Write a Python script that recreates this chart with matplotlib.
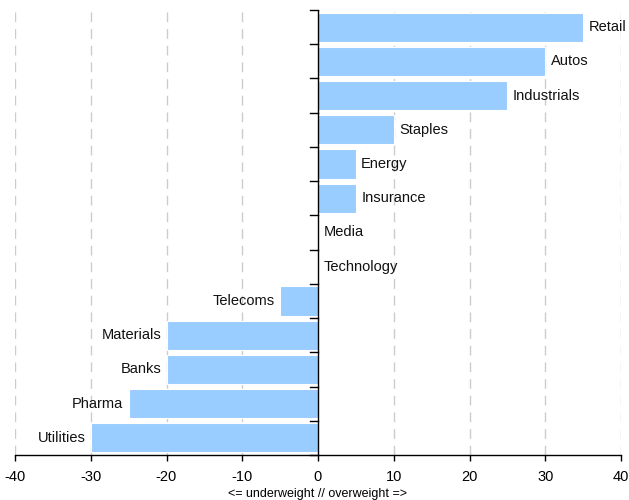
import matplotlib
matplotlib.use("Agg")
import matplotlib.pyplot as plt
from matplotlib import font_manager

names = {f.name for f in font_manager.fontManager.ttflist}
fam = ['Liberation Sans Narrow', 'Liberation Sans', 'DejaVu Sans'] if 'Liberation Sans Narrow' in names else ['Liberation Sans', 'DejaVu Sans']
plt.rcParams['font.family'] = fam

categories = ["Retail", "Autos", "Industrials", "Staples", "Energy", "Insurance", "Media",
              "Technology", "Telecoms", "Materials", "Banks", "Pharma", "Utilities"]
values = [35, 30, 25, 10, 5, 5, 0, 0, -5, -20, -20, -25, -30]
xticks = [-40, -30, -20, -10, 0, 10, 20, 30, 40]
xlabel = "<= underweight // overweight =>"

fig = plt.figure(figsize=(6.29, 5.0), dpi=100)
ax = fig.add_axes([15/629, 45/500, 606/629, 445/500])

n = len(categories)
ypos = list(range(n))
ax.barh(ypos, values, height=0.85, color="#99CCFF", edgecolor="white", linewidth=0.8, zorder=2)
ax.set_ylim(n - 0.5, -0.5)
ax.set_xlim(-40, 40)

for y, v, c in zip(ypos, values, categories):
    if v >= 0:
        ax.text(v + 0.7, y, c, ha="left", va="center", fontsize=10.5, color="#111111", zorder=3)
    else:
        ax.text(v - 0.7, y, c, ha="right", va="center", fontsize=10.5, color="#111111", zorder=3)

for t in xticks:
    if t != 0:
        ax.axvline(t, color="#cccccc", linestyle=(0, (7, 5)), linewidth=1.0, zorder=1)

ax.set_xticks(xticks)
ax.set_xticklabels([str(t) for t in xticks], fontsize=10.5)
ax.set_xlabel(xlabel, fontsize=9, labelpad=3)

for s in ["top", "right", "left"]:
    ax.spines[s].set_visible(False)
ax.spines["bottom"].set_linewidth(1.0)
ax.axvline(0, color="black", linewidth=1.0, zorder=4)
ax.tick_params(axis="x", direction="out", length=4, width=1.0, pad=7)

# y ticks at category boundaries drawn at zero line
ax.set_yticks([])
for b in [i - 0.5 for i in range(n + 1)]:
    ax.plot([-1.1, 0], [b, b], color="black", linewidth=1.0, zorder=4, clip_on=False)

fig.savefig("out.png", dpi=100)
